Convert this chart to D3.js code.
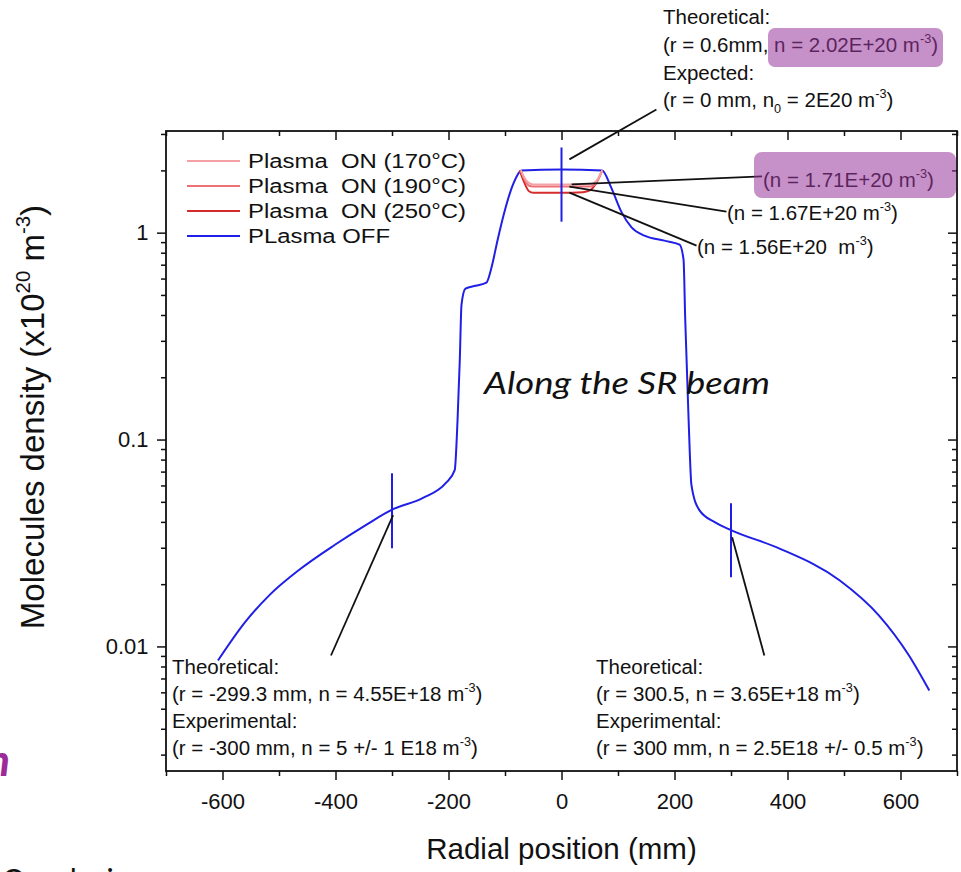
<!DOCTYPE html>
<html><head><meta charset="utf-8">
<script src="https://cdn.jsdelivr.net/npm/d3@7"></script>
<style>
body{margin:0;background:#fff;}
svg{display:block;}
text{font-family:"Liberation Sans",Arial,sans-serif;}
</style>
</head><body>
<svg id="c" width="961" height="872"></svg>
<script>
// ---------------- data ----------------
const offR = [-608,-560,-516,-463,-401,-345,-300,-246,-205,-189,-184,-180,-177,-170,-152,-133,-124,-113,-99,-85,-71,0,72,88,106,124,147,182,209,216,219,225,230,244,272,300,385,492,562,615,651];
const offN = [0.00855,0.0131,0.0178,0.0236,0.0310,0.0388,0.0458,0.0521,0.0615,0.0711,0.124,0.243,0.448,0.536,0.554,0.573,0.677,0.925,1.32,1.73,2.0,2.02,2.0,1.65,1.26,1.06,0.967,0.915,0.875,0.74,0.379,0.124,0.0602,0.0456,0.0398,0.0365,0.0298,0.0209,0.0141,0.00904,0.00612];
const on170R = [-72,-66,-58,-50,0,50,58,66,72];
const on170N = [2.0,1.85,1.74,1.71,1.71,1.71,1.74,1.85,2.0];
const on190R = [-72,-66,-58,-50,0,50,58,66,72];
const on190N = [2.0,1.82,1.69,1.67,1.67,1.67,1.70,1.83,2.0];
const on250R = [-74,-66,-58,-50,0,38,50,62,72];
const on250N = [2.0,1.75,1.59,1.56,1.56,1.57,1.60,1.75,2.0];
const seriesNames = ["Plasma  ON (170°C)","Plasma  ON (190°C)","Plasma  ON (250°C)","PLasma OFF"];
const seriesColors = ["#f4a1a6","#ee7178","#d42c2c","#1f1fe6"];
const xTicks = [-600,-400,-200,0,200,400,600];
const xMinor = [-700,-500,-300,-100,100,300,500,700];
const yTicks = [0.01,0.1,1];
const yTickLabels = ["0.01","0.1","1"];
// marker bars (r, n low, n high)
const markR = [-300,0,300];
const markLo = [0.0298,1.13,0.0216];
const markHi = [0.0688,2.58,0.0492];
// leader lines: start (r,n) -> end (r,n)
const leadR0 = [14,18,14,14,-298,302];
const leadN0 = [2.26,1.71,1.67,1.56,0.0431,0.0337];
const leadR1 = [168,355,292,239,-408,359];
const leadN1 = [3.94,1.87,1.264,0.865,0.00904,0.00904];

// ---------------- layout ----------------
const svg = d3.select("#c");
const L=166, R=957, T=131, B=771;
const x = d3.scaleLinear().domain([-700,700]).range([L,R]);
const y = d3.scaleLog().domain([0.0025,3.1]).range([B,T]);
const INK="#111";

const yMinor = [];
[0.001,0.01,0.1,1].forEach(d=>{for(let k=2;k<=9;k++){const v=d*k; if(v>=0.0025&&v<=3.1) yMinor.push(v);}});

function styleAxis(g){g.select(".domain").remove();g.selectAll("line").attr("stroke",INK).attr("stroke-width",1.5);}

svg.append("g").attr("transform",`translate(0,${B})`)
  .call(d3.axisBottom(x).tickValues(xTicks).tickSize(9).tickFormat(d=>d))
  .call(styleAxis)
  .call(g=>g.selectAll("text").attr("font-size",22).attr("dy","1.2em").style("fill",INK).style("font-family","'Liberation Sans',Arial,sans-serif"));
svg.append("g").attr("transform",`translate(0,${B})`)
  .call(d3.axisBottom(x).tickValues(xMinor).tickSize(5).tickFormat("")).call(styleAxis);
svg.append("g").attr("transform",`translate(0,${T})`)
  .call(d3.axisBottom(x).tickValues(xTicks).tickSize(9).tickFormat("")).call(styleAxis);
svg.append("g").attr("transform",`translate(0,${T})`)
  .call(d3.axisBottom(x).tickValues(xMinor).tickSize(5).tickFormat("")).call(styleAxis);
svg.append("g").attr("transform",`translate(${L},0)`)
  .call(d3.axisLeft(y).tickValues(yTicks).tickSize(9).tickFormat((d,i)=>yTickLabels[i]))
  .call(styleAxis)
  .call(g=>g.selectAll("text").attr("font-size",22).attr("dx","-0.25em").style("fill",INK).style("font-family","'Liberation Sans',Arial,sans-serif"));
svg.append("g").attr("transform",`translate(${L},0)`)
  .call(d3.axisLeft(y).tickValues(yMinor).tickSize(5).tickFormat("")).call(styleAxis);
svg.append("g").attr("transform",`translate(${R},0)`)
  .call(d3.axisLeft(y).tickValues(yTicks).tickSize(9).tickFormat("")).call(styleAxis);
svg.append("g").attr("transform",`translate(${R},0)`)
  .call(d3.axisLeft(y).tickValues(yMinor).tickSize(5).tickFormat("")).call(styleAxis);
svg.append("rect").attr("x",L).attr("y",T).attr("width",R-L).attr("height",B-T)
  .attr("fill","none").attr("stroke",INK).attr("stroke-width",1.8);

function rich(g, parts, size){
  let shift=0;
  parts.forEach(p=>{
    const t=g.append("tspan");
    if(typeof p==="string"){ t.text(p).attr("font-size",size); if(shift){t.attr("dy",-shift);shift=0;} }
    else if(p.sup){ const s=size*0.42; t.text(p.sup).attr("font-size",size*0.62).attr("dy",-s-shift); shift=-s; }
    else if(p.sub){ const s=size*0.28; t.text(p.sub).attr("font-size",size*0.62).attr("dy",s-shift); shift=s; }
  });
}

// curves
const line = d3.line().x(d=>x(d[0])).y(d=>y(d[1])).curve(d3.curveMonotoneX);
const zip=(a,b)=>a.map((v,i)=>[v,b[i]]);
svg.append("path").attr("d",line(zip(offR,offN))).attr("fill","none").attr("stroke",seriesColors[3]).attr("stroke-width",2);
[[on250R,on250N,2],[on190R,on190N,1],[on170R,on170N,0]].forEach(([r,n,i])=>{
  svg.append("path").attr("d",line(zip(r,n))).attr("fill","none").attr("stroke",seriesColors[i]).attr("stroke-width",2);
});
markR.forEach((r,i)=>{
  svg.append("line").attr("x1",x(r)).attr("x2",x(r)).attr("y1",y(markLo[i])).attr("y2",y(markHi[i]))
    .attr("stroke",seriesColors[3]).attr("stroke-width",2);
});
leadR0.forEach((r,i)=>{
  svg.append("line").attr("x1",x(r)).attr("y1",y(leadN0[i])).attr("x2",x(leadR1[i])).attr("y2",y(leadN1[i]))
    .attr("stroke",INK).attr("stroke-width",1.8);
});

// legend
seriesNames.forEach((s,i)=>{
  const yy=161+i*25;
  svg.append("line").attr("x1",187).attr("x2",240).attr("y1",yy).attr("y2",yy).attr("stroke",seriesColors[i]).attr("stroke-width",2);
  svg.append("text").attr("x",248).attr("y",yy+7).attr("font-size",20).style("white-space","pre").style("fill",INK)
    .attr("textLength", i<3?218:142).attr("lengthAdjust","spacingAndGlyphs").text(s);
});

// annotations
const AF=20.5;
function block(x0, ys, lines){
  lines.forEach((parts,i)=>{
    const t=svg.append("text").attr("x",x0).attr("y",ys[i]).attr("font-size",AF).style("white-space","pre").style("fill",INK);
    rich(t,parts,AF);
  });
}
block(663,[24,52,80,107],[
  ["Theoretical:"],
  ["(r = 0.6mm, n = 2.02E+20 m",{sup:"-3"},")"],
  ["Expected:"],
  ["(r = 0 mm, n",{sub:"0"}," = 2E20 m",{sup:"-3"},")"]
]);
block(763,[187],[["(n = 1.71E+20 m",{sup:"-3"},")"]]);
block(727,[220],[["(n = 1.67E+20 m",{sup:"-3"},")"]]);
block(697,[254],[["(n = 1.56E+20  m",{sup:"-3"},")"]]);
block(172,[674,701,728,755],[
  ["Theoretical:"],
  ["(r = -299.3 mm, n = 4.55E+18 m",{sup:"-3"},")"],
  ["Experimental:"],
  ["(r = -300 mm, n = 5 +/- 1 E18 m",{sup:"-3"},")"]
]);
block(596,[674,701,728,755],[
  ["Theoretical:"],
  ["(r = 300.5, n = 3.65E+18 m",{sup:"-3"},")"],
  ["Experimental:"],
  ["(r = 300 mm, n = 2.5E18 +/- 0.5 m",{sup:"-3"},")"]
]);

// translucent highlight boxes over text
svg.append("rect").attr("x",768).attr("y",28).attr("width",175).attr("height",39).attr("rx",7)
  .attr("fill","#97359a").attr("fill-opacity",0.55);
svg.append("rect").attr("x",754).attr("y",152).attr("width",202).attr("height",46).attr("rx",8)
  .attr("fill","#97359a").attr("fill-opacity",0.55);

// in-plot label
svg.append("text").attr("x",484).attr("y",394).attr("font-size",30).attr("font-style","italic")
  .attr("textLength",286).attr("lengthAdjust","spacingAndGlyphs")
  .style("font-family","Lato, 'Open Sans', sans-serif").style("fill",INK).text("Along the SR beam");

// axis titles
svg.append("text").attr("x",(L+R)/2).attr("y",859).attr("text-anchor","middle").attr("font-size",29.5).style("fill",INK).text("Radial position (mm)");
const yt=svg.append("text").attr("transform","translate(44,417) rotate(-90)").attr("text-anchor","middle").attr("font-size",33).style("fill",INK);
rich(yt,["Molecules density (x10",{sup:"20"}," m",{sup:"-3"},")"],33);

// cropped slide fragments
svg.append("text").attr("x",10).attr("y",776).attr("text-anchor","end").attr("font-size",44)
  .attr("font-weight","bold").attr("font-style","italic").style("font-family","Lato, sans-serif").style("fill","#9c2b9a").text("n");
svg.append("text").attr("x",2).attr("y",891).attr("font-size",30).style("font-family","Lato, sans-serif").style("fill",INK).text("Conclusions");
</script>
</body></html>
